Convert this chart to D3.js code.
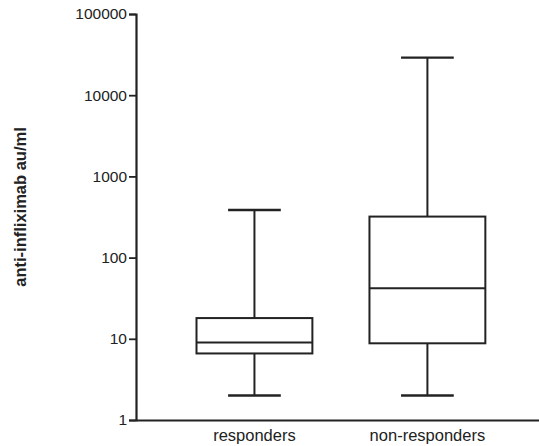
<!DOCTYPE html>
<html>
<head>
<meta charset="utf-8">
<script src="https://cdn.jsdelivr.net/npm/d3@7"></script>
<style>
body{margin:0;background:#fff;}
svg text{font-family:"Liberation Sans",Arial,Helvetica,sans-serif;fill:#222;}
</style>
</head>
<body>
<svg id="chart" width="539" height="446"></svg>
<script>
const categories = ["responders", "non-responders"];
const whiskerLow  = [2, 2];
const q1          = [6.6, 8.8];
const median      = [9.0, 42];
const q3          = [18, 320];
const whiskerHigh = [385, 29000];
const yTicks = [1, 10, 100, 1000, 10000, 100000];
const yTitle = "anti-infliximab au/ml";

const svg = d3.select("#chart");
const mLeft = 136, mRight = 539, mTop = 14, mBottom = 420;

const y = d3.scaleLog().domain([1, 100000]).range([mBottom, mTop]);
const x = d3.scaleBand().domain(categories).range([mLeft, mRight])
  .paddingInner(0.33).paddingOuter(0.33).align(0.53);

const ink = "#222";

// y axis
const yAxis = d3.axisLeft(y).tickValues(yTicks).tickFormat(d3.format("d")).tickSize(7).tickPadding(2);
const gy = svg.append("g").attr("transform", `translate(${mLeft},0)`).call(yAxis);
gy.select(".domain").attr("stroke", ink).attr("stroke-width", 2.2);
gy.selectAll(".tick line").attr("stroke", ink).attr("stroke-width", 1.8);
gy.selectAll(".tick text").attr("font-size", 15.5).attr("fill", ink).style("font-family", "'Liberation Sans',Arial,sans-serif");

// x axis
const xAxis = d3.axisBottom(x).tickSize(0).tickPadding(9);
const gx = svg.append("g").attr("transform", `translate(0,${mBottom})`).call(xAxis);
gx.select(".domain").attr("stroke", ink).attr("stroke-width", 2.2);
gx.selectAll(".tick text").attr("font-size", 16.5).attr("fill", ink).style("font-family", "'Liberation Sans',Arial,sans-serif");

// y title
svg.append("text")
  .attr("transform", `translate(26,207) rotate(-90)`)
  .attr("text-anchor", "middle")
  .attr("font-size", 16.5)
  .attr("font-weight", "bold")
  .text(yTitle);

// boxes
const data = categories.map((c, i) => ({c, lo: whiskerLow[i], q1: q1[i], med: median[i], q3: q3[i], hi: whiskerHigh[i]}));
const g = svg.append("g").attr("stroke", ink).attr("fill", "none").attr("stroke-width", 2);
const bw = x.bandwidth();
const capW = bw * 0.455;
data.forEach(d => {
  const cx = x(d.c) + bw / 2;
  g.append("line").attr("x1", cx).attr("x2", cx).attr("y1", y(d.hi)).attr("y2", y(d.q3));
  g.append("line").attr("x1", cx).attr("x2", cx).attr("y1", y(d.q1)).attr("y2", y(d.lo));
  g.append("line").attr("x1", cx - capW/2).attr("x2", cx + capW/2).attr("y1", y(d.hi)).attr("y2", y(d.hi)).attr("stroke-width", 2.4);
  g.append("line").attr("x1", cx - capW/2).attr("x2", cx + capW/2).attr("y1", y(d.lo)).attr("y2", y(d.lo)).attr("stroke-width", 2.4);
  g.append("rect").attr("x", x(d.c)).attr("width", bw).attr("y", y(d.q3)).attr("height", y(d.q1) - y(d.q3));
  g.append("line").attr("x1", x(d.c)).attr("x2", x(d.c) + bw).attr("y1", y(d.med)).attr("y2", y(d.med));
});
</script>
</body>
</html>
